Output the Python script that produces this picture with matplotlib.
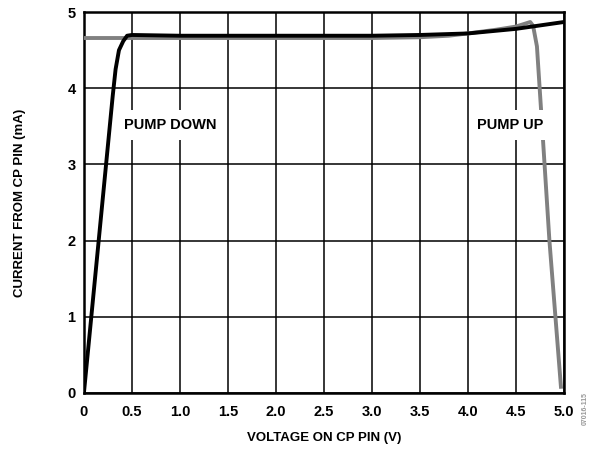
import numpy as np
import matplotlib.pyplot as plt

plt.rcParams['font.family'] = ['Liberation Sans', 'DejaVu Sans']
plt.rcParams['font.weight'] = 'bold'

# pump down (black)
down_v = [0, 0.1, 0.2, 0.3, 0.33, 0.365, 0.41, 0.45, 0.5, 1.0, 2.0, 3.0, 3.5, 4.0, 4.5, 5.0]
down_i = [0, 1.3, 2.6, 3.9, 4.25, 4.5, 4.62, 4.69, 4.70, 4.69, 4.69, 4.69, 4.70, 4.72, 4.78, 4.87]

# pump up (gray)
up_v = [0, 1, 2, 3, 3.5, 3.8, 4.0, 4.3, 4.5, 4.6, 4.65, 4.68, 4.72, 4.77, 4.85, 4.9, 4.97]
up_i = [4.66, 4.66, 4.66, 4.66, 4.67, 4.69, 4.72, 4.77, 4.81, 4.85, 4.87, 4.82, 4.55, 3.58, 2.0, 1.2, 0.08]

xticks = [0, 0.5, 1.0, 1.5, 2.0, 2.5, 3.0, 3.5, 4.0, 4.5, 5.0]
xlabels = ['0', '0.5', '1.0', '1.5', '2.0', '2.5', '3.0', '3.5', '4.0', '4.5', '5.0']
yticks = [0, 1, 2, 3, 4, 5]

fig = plt.figure(figsize=(5.91, 4.49), dpi=100)
ax = fig.add_axes([0.142, 0.125, 0.812, 0.848])

ax.plot(up_v, up_i, color='#808080', lw=2.8, zorder=3)
ax.plot(down_v, down_i, color='black', lw=2.8, zorder=4)

ax.set_xlim(0, 5)
ax.set_ylim(0, 5)
ax.set_xticks(xticks)
ax.set_xticklabels(xlabels)
ax.set_yticks(yticks)
ax.grid(True, color='black', lw=1.1)
ax.tick_params(length=0, labelsize=10.5, pad=6)
ax.tick_params(axis='x', pad=9)
for lab in ax.get_xticklabels() + ax.get_yticklabels():
    lab.set_fontweight('bold')
for s in ax.spines.values():
    s.set_linewidth(1.8)

ax.set_xlabel('VOLTAGE ON CP PIN (V)', fontsize=9.5, fontweight='bold', labelpad=9)
ax.set_ylabel('CURRENT FROM CP PIN (mA)', fontsize=9.5, fontweight='bold', labelpad=30)

box = dict(facecolor='white', edgecolor='none', pad=6)
ax.text(0.9, 3.52, 'PUMP DOWN', ha='center', va='center', fontsize=10.5,
        fontweight='bold', bbox=box, zorder=5)
ax.text(4.44, 3.52, 'PUMP UP', ha='center', va='center', fontsize=10.5,
        fontweight='bold', bbox=box, zorder=5)

fig.text(0.99, 0.09, '07016-115', rotation=90, fontsize=5, color='#999999',
         ha='center', va='center')

fig.savefig('out.png', dpi=100)
